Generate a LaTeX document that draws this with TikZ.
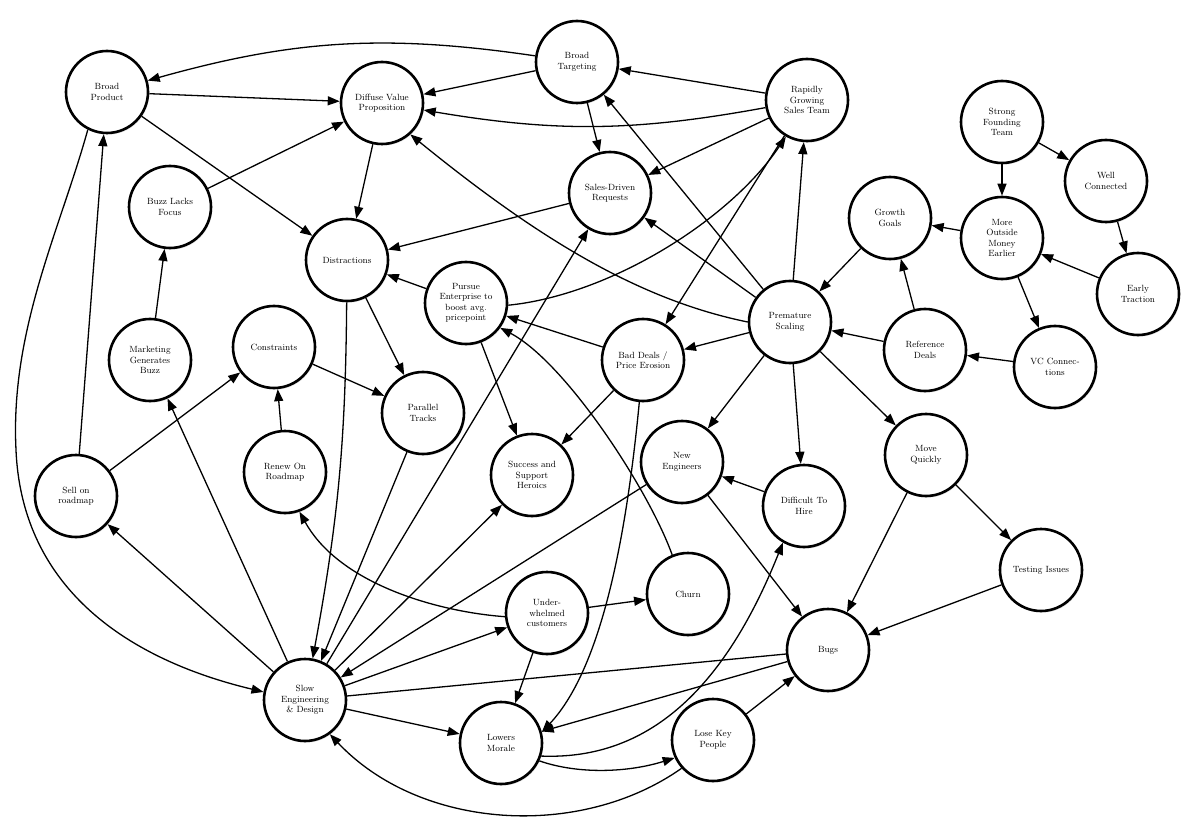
\documentclass[tikz,border=0pt]{standalone}
\usetikzlibrary{arrows.meta,shadows}
\tikzset{
  st/.style={circle, draw, line width=2.6pt, minimum size=82pt, inner sep=0pt, fill=white, align=center,
    font=\fontsize{9}{10.5}\selectfont,
    drop shadow={shadow xshift=1.2pt, shadow yshift=-1.6pt, opacity=0.22}},
  ar/.style={line width=1.3pt, -{Triangle[length=12pt,width=9pt]}},
  ln/.style={line width=1.3pt},
}
\begin{document}
\begin{tikzpicture}[x=1pt,y=1pt]
\useasboundingbox[fill=white] (0,0) rectangle (1200,-829);
% nodes
\node[st] (BP)   at (107,-92)  {Broad\\Product};
\node[st] (DVP)  at (382,-103) {Diffuse Value\\Proposition};
\node[st] (BT)   at (577,-62)  {Broad\\Targeting};
\node[st] (RGST) at (807,-100) {Rapidly\\Growing\\Sales Team};
\node[st] (SFT)  at (1002,-122) {Strong\\Founding\\Team};
\node[st] (WC)   at (1106,-181) {Well\\Connected};
\node[st] (BLF)  at (170,-207) {Buzz Lacks\\Focus};
\node[st] (SDR)  at (610,-193) {Sales-Driven\\Requests};
\node[st] (GG)   at (890,-218) {Growth\\Goals};
\node[st] (MOME) at (1002,-238) {More\\Outside\\Money\\Earlier};
\node[st] (ET)   at (1138,-294) {Early\\Traction};
\node[st] (Dist) at (347,-260) {Distractions};
\node[st] (PE)   at (466,-303) {Pursue\\Enterprise to\\boost avg.\\pricepoint};
\node[st] (PS)   at (790,-322) {Premature\\Scaling};
\node[st] (MGB)  at (150,-360) {Marketing\\Generates\\Buzz};
\node[st] (Con)  at (274,-347) {Constraints};
\node[st] (RD)   at (925,-350) {Reference\\Deals};
\node[st] (BD)   at (643,-360) {Bad Deals /\\Price Erosion};
\node[st] (VC)   at (1055,-367) {VC Connec-\\tions};
\node[st] (PT)   at (423,-413) {Parallel\\Tracks};
\node[st] (RoR)  at (285,-472) {Renew On\\Roadmap};
\node[st] (SSH)  at (532,-475) {Success and\\Support\\Heroics};
\node[st] (NE)   at (682,-462) {New\\Engineers};
\node[st] (DTH)  at (804,-506) {Difficult To\\Hire};
\node[st] (MQ)   at (926,-455) {Move\\Quickly};
\node[st] (SoR)  at (76,-496)  {Sell on\\roadmap};
\node[st] (TI)   at (1041,-570) {Testing Issues};
\node[st] (UC)   at (547,-613) {Under-\\whelmed\\customers};
\node[st] (Churn) at (688,-594) {Churn};
\node[st] (Bugs) at (828,-650) {Bugs};
\node[st] (SED)  at (305,-700) {Slow\\Engineering\\\& Design};
\node[st] (LM)   at (501,-743) {Lowers\\Morale};
\node[st] (LKP)  at (713,-740) {Lose Key\\People};
% connectors
\draw[ar] (BT) to[bend right=12] (BP);
\draw[ar] (BP) -- (DVP);
\draw[ar] (BP) -- (Dist);
\draw[ar] (BLF) -- (DVP);
\draw[ar] (BT) -- (DVP);
\draw[ar] (RGST) to[bend left=10] (DVP);
\draw[ar] (RGST) -- (BT);
\draw[ar] (BT) -- (SDR);
\draw[ar] (RGST) -- (SDR);
\draw[ar] (DVP) -- (Dist);
\draw[ar] (SDR) -- (Dist);
\draw[ar] (PS.180) .. controls (640,-300) and (540,-240) .. (DVP.-48);
\draw[ar] (PE) -- (Dist);
\draw[ar] (PE.-3) .. controls (610,-295) and (730,-220) .. (RGST.-120);
\draw[ar] (RGST) -- (BD);
\draw[ar] (PS) -- (BT);
\draw[ar] (PS) -- (SDR);
\draw[ar] (PS) -- (RGST);
\draw[ar] (GG) -- (PS);
\draw[ar] (RD) -- (PS);
\draw[ar] (RD) -- (GG);
\draw[ar] (MOME) -- (GG);
\draw[ar] (SFT) -- (MOME);
\draw[ar] (SFT) -- (WC);
\draw[ar] (WC) -- (ET);
\draw[ar] (ET) -- (MOME);
\draw[ar] (MOME) -- (VC);
\draw[ar] (VC) -- (RD);
\draw[ar] (PS) -- (BD);
\draw[ar] (BD) -- (PE);
\draw[ar] (PS) -- (NE);
\draw[ar] (PS) -- (DTH);
\draw[ar] (PS) -- (MQ);
\draw[ar] (BD) -- (SSH);
\draw[ar] (PE) -- (SSH);
\draw[ar] (BD.-95) .. controls (628,-520) and (605,-665) .. (LM.15);
\draw[ar] (Dist) -- (PT);
\draw[ar] (Con) -- (PT);
\draw[ar] (Dist) to[bend left=5] (SED);
\draw[ar] (PT) -- (SED);
\draw[ar] (SED) -- (SDR);
\draw[ar] (SED) -- (SSH);
\draw[ar] (NE) -- (SED);
\draw[ar] (SED) -- (UC);
\draw[ln] (SED) -- (Bugs);
\draw[ar] (SED) -- (LM);
\draw[ar] (LKP.222) .. controls (580,-840) and (420,-830) .. (SED.-54);
\draw[ar] (SED) -- (SoR);
\draw[ar] (SED) -- (MGB);
\draw[ar] (SoR) -- (BP);
\draw[ar] (BP.-117) .. controls (60,-230) and (10,-330) .. (16,-450) .. controls (22,-590) and (130,-660) .. (SED.169);
\draw[ar] (SoR) -- (Con);
\draw[ar] (RoR) -- (Con);
\draw[ar] (MGB) -- (BLF);
\draw[ar] (UC.185) .. controls (440,-612) and (340,-585) .. (RoR.-70);
\draw[ar] (UC) -- (Churn);
\draw[ar] (UC) -- (LM);
\draw[ar] (Churn.112) .. controls (648,-488) and (565,-362) .. (PE.-36);
\draw[ar] (NE) -- (Bugs);
\draw[ar] (DTH) -- (NE);
\draw[ar] (MQ) -- (Bugs);
\draw[ar] (MQ) -- (TI);
\draw[ar] (TI) -- (Bugs);
\draw[ar] (LM.-18) .. controls (640,-760) and (720,-700) .. (DTH.-120);
\draw[ar] (LM.-25) .. controls (580,-775) and (630,-772) .. (LKP.205);
\draw[ar] (Bugs) -- (LM);
\draw[ar] (LKP) -- (Bugs);
\end{tikzpicture}
\end{document}
